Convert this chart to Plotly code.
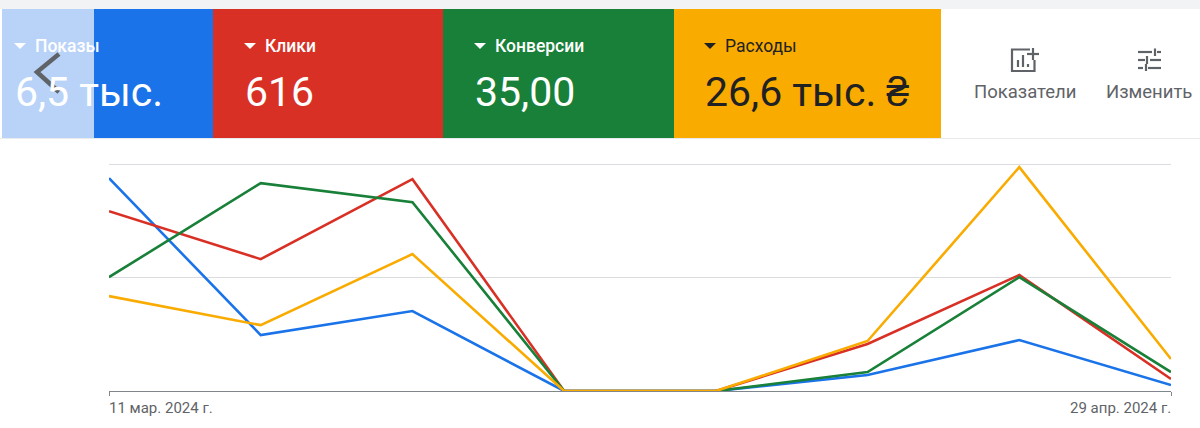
import plotly.graph_objects as go

dates = ["2024-03-11", "2024-03-18", "2024-03-25", "2024-04-01",
         "2024-04-08", "2024-04-15", "2024-04-22", "2024-04-29"]
impressions = [1.877, 0.493, 0.705, 0, 0, 0.141, 0.449, 0.053]
clicks = [1.586, 1.163, 1.868, 0, 0, 0.414, 1.022, 0.106]
conversions = [1.004, 1.833, 1.665, 0, 0, 0.167, 1.004, 0.167]
costs = [0.837, 0.581, 1.207, 0, 0, 0.441, 1.974, 0.282]

metric_names = ["Показы", "Клики", "Конверсии", "Расходы"]
metric_totals = ["6,5 тыс.", "616", "35,00", "26,6 тыс. ₴"]
metric_colors = ["#1a73e8", "#d93025", "#188038", "#f9ab00"]
date_labels = ["11 мар. 2024 г.", "29 апр. 2024 г."]
action_labels = ["Показатели", "Изменить"]

W, H = 1200, 428
L, R, T, B = 109, 1171, 154, 391
Y_MAX = 2.09
FONT = "Roboto, sans-serif"


def X(px):
    return (px - L) / (R - L)


def Y(py):
    return (B - py) / (B - T)


def rect(x0, y0, x1, y1, color, opacity=1):
    return dict(type="rect", xref="paper", yref="paper", x0=X(x0), x1=X(x1),
                y0=Y(y1), y1=Y(y0), fillcolor=color, opacity=opacity,
                line=dict(width=0), layer="below")


def path(points, color=None, fill=None, width=2, closed=False):
    d = "M" + " L".join(f"{X(a):.5f},{Y(b):.5f}" for a, b in points)
    if closed:
        d += " Z"
    return dict(type="path", xref="paper", yref="paper", path=d,
                fillcolor=fill if fill else "rgba(0,0,0,0)",
                line=dict(color=color if color else "rgba(0,0,0,0)", width=width),
                layer="above")


def text(px, py, s, size, color, anchor="left", weight=400):
    return dict(xref="paper", yref="paper", x=X(px), y=Y(py), text=s, showarrow=False,
                xanchor=anchor, yanchor="middle", borderpad=0, borderwidth=0,
                font=dict(family=FONT, size=size, color=color, weight=weight))


fig = go.Figure()
for name, vals, col in [(metric_names[0], impressions, metric_colors[0]),
                        (metric_names[1], clicks, metric_colors[1]),
                        (metric_names[2], conversions, metric_colors[2]),
                        (metric_names[3], costs, metric_colors[3])]:
    fig.add_trace(go.Scatter(x=dates, y=vals, name=name, mode="lines",
                             line=dict(color=col, width=2.6), cliponaxis=False))

card_edges = [94, 213, 443, 674, 941]
label_x = [35, 265, 495, 725]
value_x = [15, 245, 475, 705]
shapes = [
    rect(0, 0, W, 9, "#f1f3f4"),
    rect(0, 138, W, 139, "#e8eaed"),
    rect(2, 9, 94, 138, "#b9d3f8"),
]
for i, c in enumerate(metric_colors):
    shapes.append(rect(card_edges[i], 9, card_edges[i + 1], 138, c))

annotations = []
for i, n in enumerate(metric_names):
    fg = "#ffffff" if i < 3 else "#202124"
    tri_x = label_x[i] - 21
    shapes.append(path([(tri_x, 43), (tri_x + 12, 43), (tri_x + 6, 49)], fill=fg, width=0, closed=True))
    annotations.append(text(label_x[i], 46, n, 17.5, fg, weight=500 if i < 3 else 400))
    annotations.append(text(value_x[i], 92, metric_totals[i], 41, fg))

# back chevron
shapes.append(path([(59, 54), (37, 72), (59, 92)], color="#5f6368", width=4.5))

# "Показатели" icon
g = "#5f6368"
shapes.append(path([(1030, 49.5), (1012, 49.5), (1012, 71), (1034.5, 71), (1034.5, 60)], color=g, width=2.2))
for bx, by in [(1018, 60), (1023, 55), (1028, 64)]:
    shapes.append(path([(bx, by), (bx, 67)], color=g, width=2.2))
shapes.append(path([(1027, 54), (1039, 54)], color=g, width=2.2))
shapes.append(path([(1033, 48), (1033, 60)], color=g, width=2.2))

# "Изменить" icon
for y0, a, b, c, d in [(52, 1138, 1152, 1157, 1161), (60, 1138, 1145, 1150, 1161), (68, 1138, 1143, 1148, 1161)]:
    shapes.append(path([(a, y0), (b, y0)], color=g, width=2.2))
    shapes.append(path([(c, y0), (d, y0)], color=g, width=2.2))
shapes.append(path([(1155, 48.5), (1155, 56)], color=g, width=2.2))
shapes.append(path([(1147, 56), (1147, 64)], color=g, width=2.2))
shapes.append(path([(1146, 64), (1146, 71)], color=g, width=2.2))

annotations.append(text(1024.5, 92, action_labels[0], 18.5, "#5f6368", "center"))
annotations.append(text(1148.5, 92, action_labels[1], 18.5, "#5f6368", "center"))
annotations.append(text(109, 408, date_labels[0], 15, "#5f6368", "left"))
annotations.append(text(1171, 408, date_labels[1], 15, "#5f6368", "right"))

fig.update_layout(
    width=W, height=H, autosize=False,
    margin=dict(l=L, r=W - R, t=T, b=H - B, pad=0),
    paper_bgcolor="#ffffff", plot_bgcolor="#ffffff",
    showlegend=False, shapes=shapes, annotations=annotations,
    font=dict(family=FONT),
    xaxis=dict(range=[dates[0], dates[-1]], type="date", tickvals=[dates[0], dates[-1]],
               showticklabels=False, ticks="outside", ticklen=4, tickcolor="#80868b", tickwidth=1,
               showgrid=False, showline=True, linecolor="#80868b", linewidth=1, zeroline=False),
    yaxis=dict(range=[0, Y_MAX], tickvals=[0, 1, 2], showticklabels=False, ticks="",
               showgrid=True, gridcolor="#dadce0", gridwidth=1, zeroline=False, showline=False),
)

fig.write_html("out.html", config={"displayModeBar": False},
               post_script="document.body.style.margin='0';document.documentElement.style.overflow='hidden';")
